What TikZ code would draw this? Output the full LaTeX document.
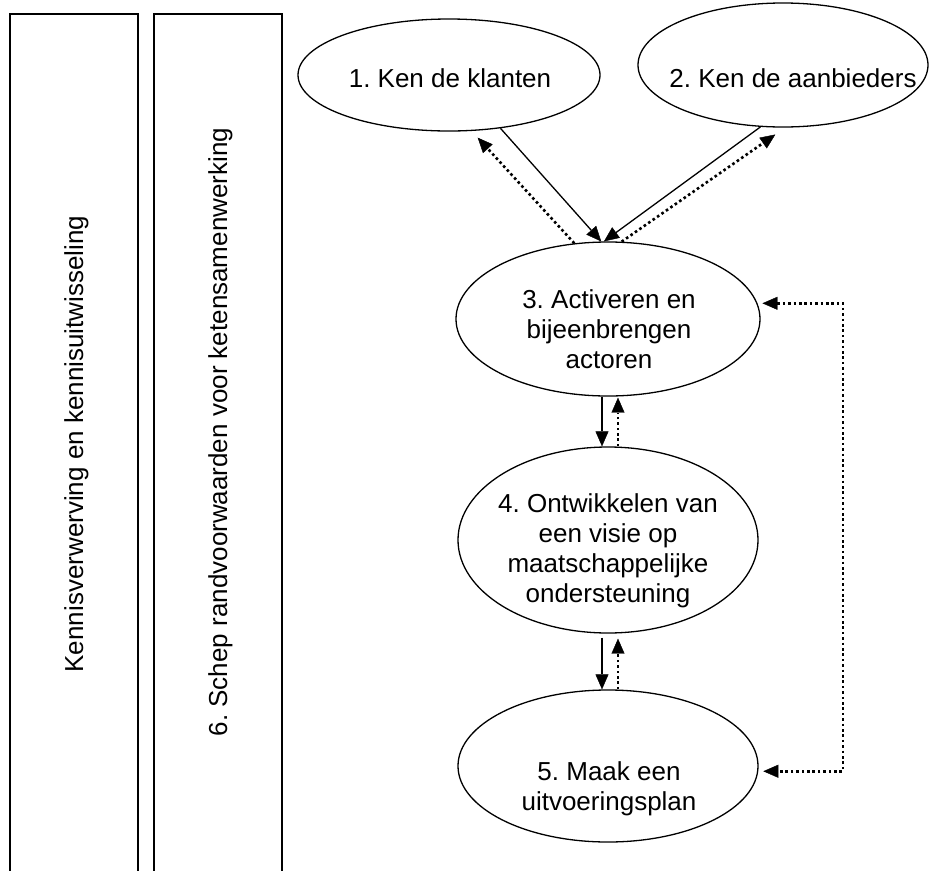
\documentclass[tikz,border=0pt]{standalone}
\usepackage{fontspec}
\setmainfont{Liberation Sans}
\usetikzlibrary{arrows.meta,shapes.geometric}

% centred lines, baseline of the box on the first line
\newcommand\stacklines[1]{\vtop{\baselineskip=30pt\halign{\hfil##\hfil\cr#1\crcr}}}

\begin{document}
\frenchspacing
\begin{tikzpicture}[x=1pt,y=-1pt,
  every node/.style={font=\fontsize{26}{30}\selectfont},
  ell/.style={draw, ellipse, line width=1.3pt, inner sep=0pt},
  lbl/.style={anchor=base, inner sep=0pt},
  tip/.tip={Triangle[length=15pt,width=13pt,line width=0.4pt]},
  sol/.style={line width=1.3pt, -tip},
  dot/.style={line width=2.6pt, dash pattern=on 2.6pt off 2.8pt, -tip},
  dotboth/.style={line width=2.6pt, dash pattern=on 2.6pt off 2.8pt, tip-tip},
]
\useasboundingbox (0,0) rectangle (930,871);

% side bars, open at the bottom
\draw[line width=1.3pt] (10,871) -- (10,14) -- (138,14) -- (138,871);
\draw[line width=1.3pt] (154,871) -- (154,14) -- (282,14) -- (282,871);
\node[lbl, rotate=90] (tk) at (83,444) {Kennisverwerving en kennisuitwisseling};
\node[lbl, rotate=90] (t6) at (227,432) {6. Schep randvoorwaarden voor ketensamenwerking};

% process steps
\node[ell, minimum width=302pt, minimum height=112pt] (e1) at (449,75) {};
\node[ell, minimum width=290pt, minimum height=124pt] (e2) at (783,65) {};
\node[ell, minimum width=304pt, minimum height=154pt] (e3) at (608,319) {};
\node[ell, minimum width=300pt, minimum height=186pt] (e4) at (608,540) {};
\node[ell, minimum width=300pt, minimum height=152pt] (e5) at (608,766) {};

\node[lbl] (t1) at (450,87) {1. Ken de klanten};
\node[lbl] (t2) at (793,87) {2. Ken de aanbieders};
\node[lbl] (t3) at (609,308) {\stacklines{3. Activeren en\cr bijeenbrengen\cr actoren}};
\node[lbl] (t4) at (608,512) {\stacklines{4. Ontwikkelen van\cr een visie op\cr maatschappelijke\cr ondersteuning}};
\node[lbl] (t5) at (609,780) {\stacklines{5. Maak een\cr uitvoeringsplan}};

% links between the steps
\draw[sol] (e1.-46) -- (e3.95);
\draw[dot, shorten >=9pt] (e3.114) -- (e1.-68.4);
\draw[sol] (e2.-110) -- (e3.93);
\draw[dot, shorten >=12pt] (e3.80) -- (e2.-88);

\draw[sol] ([xshift=-6pt]e3.south) -- ([xshift=-6pt]e4.north);
\draw[dot, shorten >=1pt] ([xshift=10pt]e4.north) -- ([xshift=10pt]e3.south);
\draw[sol, shorten <=4pt] ([xshift=-6pt]e4.south) -- ([xshift=-6pt]e5.north);
\draw[dot, shorten >=5pt] ([xshift=10pt]e5.north) -- ([xshift=10pt]e4.south);

% feedback from plan to actors
\coordinate (fb) at (843,540);
\draw[dotboth, shorten >=5pt, shorten <=5pt] (e3.6.5) -| (fb) |- (e5.-2.7);
\end{tikzpicture}
\end{document}
